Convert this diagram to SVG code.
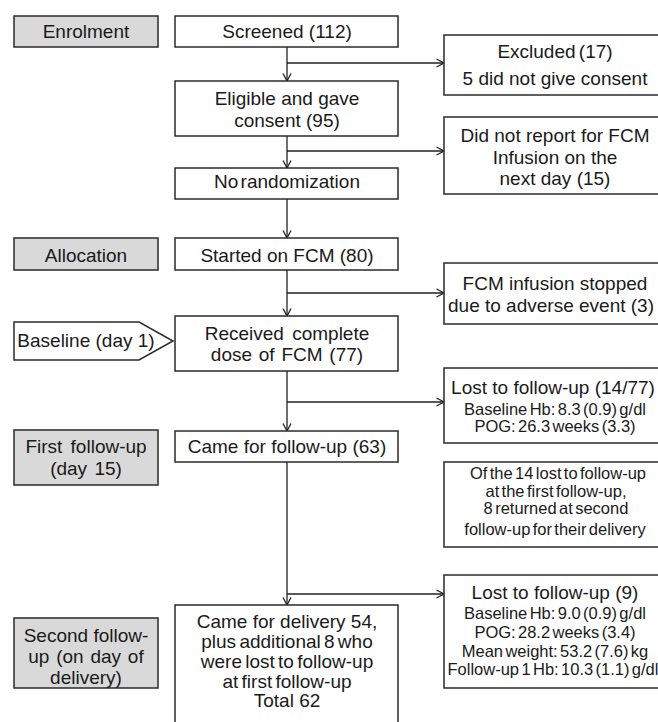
<svg xmlns="http://www.w3.org/2000/svg" width="658" height="722" viewBox="0 0 658 722">
<defs>
<marker id="ah" markerWidth="10" markerHeight="10" refX="9" refY="5" orient="auto" markerUnits="userSpaceOnUse">
<path d="M1.5,1 L9,5 L1.5,9" fill="none" stroke="#222" stroke-width="1.3"/>
</marker>
<style>
.w, .g { stroke: #2a2a2a; stroke-width: 1.5; }
.w { fill: #ffffff; }
.g { fill: #d9d9d9; }
text { font-family: "Liberation Sans", Arial, sans-serif; font-size: 19px; fill: #1a1a1a; text-anchor: middle; }
.s { font-size: 16.5px; word-spacing: -2.2px; }
.n { word-spacing: -2px; }
.c line { stroke: #222; stroke-width: 1.3; fill: none; }
</style>
</defs>
<rect width="658" height="722" fill="#ffffff"/>

<g class="c" id="connectors">
<line x1="287" y1="47" x2="287" y2="81" marker-end="url(#ah)"/>
<line x1="287" y1="136" x2="287" y2="168" marker-end="url(#ah)"/>
<line x1="287" y1="199" x2="287" y2="238" marker-end="url(#ah)"/>
<line x1="287" y1="270" x2="287" y2="316" marker-end="url(#ah)"/>
<line x1="287" y1="371" x2="287" y2="431" marker-end="url(#ah)"/>
<line x1="287" y1="462" x2="287" y2="605" marker-end="url(#ah)"/>
<line x1="287" y1="63" x2="444" y2="63" marker-end="url(#ah)"/>
<line x1="287" y1="151" x2="444" y2="151" marker-end="url(#ah)"/>
<line x1="287" y1="293" x2="444" y2="293" marker-end="url(#ah)"/>
<line x1="287" y1="402" x2="444" y2="402" marker-end="url(#ah)"/>
<line x1="287" y1="594" x2="444" y2="594" marker-end="url(#ah)"/>
</g>

<g id="enrolment"><rect class="g" x="14" y="16" width="144" height="31"/><text x="86" y="38">Enrolment</text></g>
<g id="allocation"><rect class="g" x="14" y="238" width="144" height="32"/><text x="86" y="262">Allocation</text></g>
<g id="baseline"><polygon class="w" points="14,322 139,322 173,341 139,360 14,360"/><text x="86" y="347">Baseline (day 1)</text></g>
<g id="first-followup"><rect class="g" x="14" y="430" width="144" height="55"/><text x="86" y="453" word-spacing="3">First follow-up</text><text x="86" y="475" word-spacing="2">(day 15)</text></g>
<g id="second-followup"><rect class="g" x="14" y="618" width="144" height="70"/><text x="86" y="642">Second follow-</text><text x="86" y="663" word-spacing="1.5">up (on day of</text><text x="86" y="684">delivery)</text></g>

<g id="screened"><rect class="w" x="175" y="16" width="223" height="31"/><text x="287" y="38">Screened (112)</text></g>
<g id="eligible"><rect class="w" x="175" y="81" width="223" height="55"/><text x="287" y="105">Eligible and gave</text><text x="287" y="127">consent (95)</text></g>
<g id="norandom"><rect class="w" x="175" y="168" width="223" height="31"/><text x="287" y="188" word-spacing="-3">No randomization</text></g>
<g id="started"><rect class="w" x="175" y="238" width="223" height="32"/><text x="287" y="262">Started on FCM (80)</text></g>
<g id="received"><rect class="w" x="175" y="316" width="223" height="55"/><text x="287" y="340" word-spacing="3">Received complete</text><text x="287" y="361" word-spacing="1.5">dose of FCM (77)</text></g>
<g id="came-followup"><rect class="w" x="175" y="431" width="223" height="31"/><text x="287" y="453">Came for follow-up (63)</text></g>
<g id="came-delivery"><rect class="w" x="175" y="605" width="223" height="130"/><text x="287" y="628">Came for delivery 54,</text><text x="287" y="648" class="n">plus additional 8 who</text><text x="287" y="668" class="n">were lost to follow-up</text><text x="287" y="688" class="n">at first follow-up</text><text x="287" y="707">Total 62</text></g>

<g id="excluded"><rect class="w" x="444" y="35" width="222" height="60"/><text x="555" y="58" word-spacing="-2">Excluded (17)</text><text x="555" y="85">5 did not give consent</text></g>
<g id="notreport"><rect class="w" x="444" y="117" width="222" height="77"/><text x="555" y="142">Did not report for FCM</text><text x="555" y="163.5">Infusion on the</text><text x="555" y="185">next day (15)</text></g>
<g id="stopped"><rect class="w" x="444" y="263" width="222" height="61"/><text x="555" y="290">FCM infusion stopped</text><text x="551" y="312">due to adverse event (3)</text></g>
<g id="lost1"><rect class="w" x="444" y="368" width="222" height="75"/><text x="553" y="394">Lost to follow-up (14/77)</text><text x="555" y="415" class="s">Baseline Hb: 8.3 (0.9) g/dl</text><text x="555" y="432" class="s">POG: 26.3 weeks (3.3)</text></g>
<g id="returned"><rect class="w" x="444" y="462" width="222" height="85"/><text x="558" y="479" class="s">Of the 14 lost to follow-up</text><text x="556" y="497" class="s">at the first follow-up,</text><text x="556" y="514" class="s">8 returned at second</text><text x="555" y="535" class="s">follow-up for their delivery</text></g>
<g id="lost2"><rect class="w" x="444" y="575" width="222" height="113"/><text x="555" y="599">Lost to follow-up (9)</text><text x="555" y="619" class="s">Baseline Hb: 9.0 (0.9) g/dl</text><text x="555" y="638" class="s">POG: 28.2 weeks (3.4)</text><text x="555" y="657" class="s">Mean weight: 53.2 (7.6) kg</text><text x="553" y="675" class="s">Follow-up 1 Hb: 10.3 (1.1) g/dl</text></g>
</svg>
